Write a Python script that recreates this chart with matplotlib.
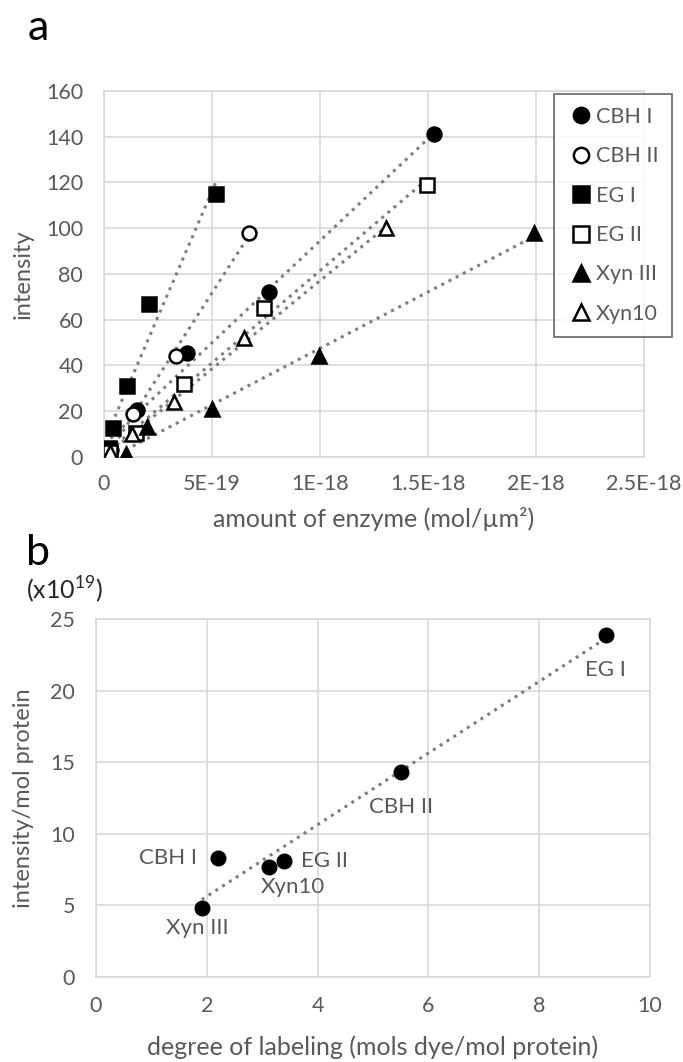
import numpy as np
import matplotlib
matplotlib.use('Agg')
import matplotlib.pyplot as plt

plt.rcParams['font.family'] = ['Lato', 'DejaVu Sans']
plt.rcParams['mathtext.fontset'] = 'custom'
plt.rcParams['mathtext.rm'] = 'Lato'

GREY = '#595959'
GRID = '#d9d9d9'
DOT = '#7f7f7f'

# panel a: amount of enzyme (mol/um2) vs intensity
cbh1_x = [0.306e-19, 1.53e-19, 3.83e-19, 7.65e-19, 15.3e-19]
cbh1_y = [3, 20.5, 45.5, 72, 141]
cbh2_x = [0.267e-19, 1.33e-19, 3.33e-19, 6.7e-19]
cbh2_y = [3, 19, 44, 98]
eg1_x = [0.21e-19, 0.42e-19, 1.05e-19, 2.1e-19, 5.2e-19]
eg1_y = [4, 12.7, 31, 67, 115]
eg2_x = [0.3e-19, 1.48e-19, 3.7e-19, 7.4e-19, 14.95e-19]
eg2_y = [2, 10.5, 32, 65, 119]
xyn3_x = [1.0e-19, 2.0e-19, 5.0e-19, 9.95e-19, 19.9e-19]
xyn3_y = [1.5, 13, 21, 44, 98]
xyn10_x = [0.26e-19, 1.3e-19, 3.26e-19, 6.5e-19, 13.06e-19]
xyn10_y = [2, 10, 24, 52, 100]

names_a = ['CBH I', 'CBH II', 'EG I', 'EG II', 'Xyn III', 'Xyn10']
xticks_a = [0, 5e-19, 1e-18, 1.5e-18, 2e-18, 2.5e-18]
xticklabels_a = ['0', '5E-19', '1E-18', '1.5E-18', '2E-18', '2.5E-18']
yticks_a = [0, 20, 40, 60, 80, 100, 120, 140, 160]

# panel b: degree of labeling vs intensity per mol protein (x10^19)
names_b = ['Xyn III', 'CBH I', 'Xyn10', 'EG II', 'CBH II', 'EG I']
dol = [1.91, 2.21, 3.12, 3.40, 5.5, 9.2]
int_per_mol = [4.8, 8.3, 7.7, 8.1, 14.35, 23.9]

fig = plt.figure(figsize=(6.83, 10.62), dpi=100)

def style(ax):
    ax.grid(True, color=GRID, linewidth=1.2)
    ax.set_axisbelow(True)
    for s in ax.spines.values():
        s.set_color(GRID)
        s.set_linewidth(1.2)
    ax.tick_params(length=0, colors=GREY, labelsize=15.5)

# ---- a ----
ax = fig.add_axes([104/683, 1-457/1062, 540/683, 366/1062])
style(ax)
series = [(cbh1_x, cbh1_y, 'o', 'k'), (cbh2_x, cbh2_y, 'o', 'w'),
          (eg1_x, eg1_y, 's', 'k'), (eg2_x, eg2_y, 's', 'w'),
          (xyn3_x, xyn3_y, '^', 'k'), (xyn10_x, xyn10_y, '^', 'w')]
for (xs, ys, m, fc), nm in zip(series, names_a):
    xs = np.array(xs); ys = np.array(ys)
    k, b = np.polyfit(xs, ys, 1)
    xx = np.array([xs.min(), xs.max()])
    ax.plot(xx, k*xx+b, ':', color=DOT, lw=2.2, zorder=2)
for (xs, ys, m, fc), nm in zip(series, names_a):
    ax.plot(xs, ys, m, ms=10, mfc=fc, mec='k', mew=1.8, ls='none', label=nm, zorder=3)
ax.set_xlim(0, 2.5e-18)
ax.set_ylim(0, 160)
ax.set_xticks(xticks_a)
ax.set_xticklabels(xticklabels_a)
ax.set_yticks(yticks_a)
ax.tick_params(axis='x', pad=12)
ax.tick_params(axis='y', pad=15)
ax.set_ylabel('intensity', color=GREY, fontsize=17)
ax.yaxis.set_label_coords(-0.131, 0.5)
ax.set_xlabel('amount of enzyme (mol/\u00b5m\u00b2)', color=GREY, fontsize=18)
ax.xaxis.set_label_coords(0.5, -0.137)
leg = ax.legend(loc='upper left', bbox_to_anchor=(554/683, 1-94/1062),
                bbox_transform=fig.transFigure, borderaxespad=0,
                fontsize=15.5, frameon=True, fancybox=False, labelspacing=0.9,
                handletextpad=0.05, handlelength=1.3, borderpad=0.6, markerscale=1.1)
leg.get_frame().set_edgecolor('#404040')
leg.get_frame().set_linewidth(1.2)
for t in leg.get_texts():
    t.set_color(GREY)

fig.text(38/683, 1-28/1062, 'a', fontsize=31, ha='center', va='center')

# ---- b ----
ax2 = fig.add_axes([96/683, 1-977/1062, 554/683, 358/1062])
style(ax2)
xs = np.array(dol); ys = np.array(int_per_mol)
k, b = np.polyfit(xs, ys, 1)
xx = np.array([xs.min(), xs.max()])
ax2.plot(xx, k*xx+b, ':', color=DOT, lw=2.2, zorder=2)
ax2.plot(xs, ys, 'o', ms=10.5, color='k', ls='none', zorder=3)
ax2.set_xlim(0, 10)
ax2.set_ylim(0, 25)
ax2.set_xticks([0, 2, 4, 6, 8, 10])
ax2.set_yticks([0, 5, 10, 15, 20, 25])
ax2.tick_params(axis='x', pad=14)
ax2.tick_params(axis='y', pad=15)
ax2.set_ylabel('intensity/mol protein', color=GREY, fontsize=17)
ax2.yaxis.set_label_coords(-0.112, 0.5)
ax2.set_xlabel('degree of labeling (mols dye/mol protein)', color=GREY, fontsize=18)
ax2.xaxis.set_label_coords(0.5, -0.163)

offsets = {'Xyn III': (-5, -20, 'center'), 'CBH I': (-21, 0, 'right'),
           'Xyn10': (24, -20, 'center'), 'EG II': (17, 0, 'left'),
           'CBH II': (0, -35, 'center'), 'EG I': (0, -35, 'center')}
for nm, x, y in zip(names_b, dol, int_per_mol):
    dx, dy, ha = offsets[nm]
    ax2.annotate(nm, (x, y), xytext=(dx, dy), textcoords='offset pixels',
                 ha=ha, va='center', color=GREY, fontsize=16)

fig.text(38/683, 1-553/1062, 'b', fontsize=31, ha='center', va='center')
fig.text(26/683, 1-590/1062, '(x10$^{\\mathrm{19}}$)', fontsize=18, ha='left', va='center', color='#262626')

fig.savefig('out.png', dpi=100)
